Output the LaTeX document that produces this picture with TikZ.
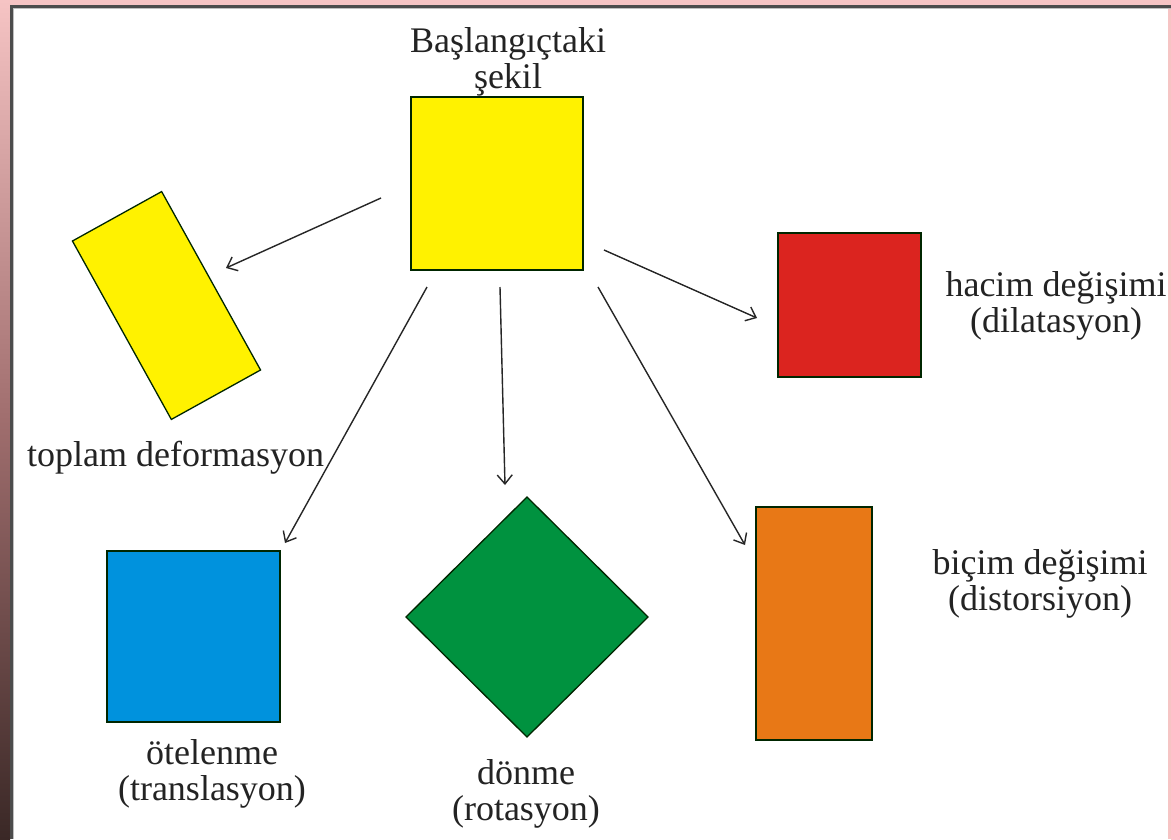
\documentclass[tikz,border=0pt]{standalone}
\usepackage{fontspec}
\setmainfont{Liberation Serif}
\usetikzlibrary{arrows.meta,shapes.geometric}
\definecolor{bgpink}{RGB}{246,196,196}
\definecolor{darkleft}{RGB}{58,40,38}
\definecolor{ylw}{RGB}{255,242,0}
\definecolor{rd}{RGB}{219,36,31}
\definecolor{bl}{RGB}{0,146,221}
\definecolor{gr}{RGB}{0,146,63}
\definecolor{org}{RGB}{232,120,22}
\definecolor{txt}{RGB}{35,35,35}
\tikzset{
  shapebox/.style={draw=black!85!green, line width=1.3pt, inner sep=0pt, outer sep=0pt},
  lbl/.style={text=txt, font=\fontsize{36}{36}\selectfont, inner sep=0pt, align=center},
  arr/.style={draw=black!85, line width=1.4pt, -{Straight Barb[length=9pt,width=15pt,line width=1.4pt]}}
}
\begin{document}
\begin{tikzpicture}[x=1pt,y=-1pt]
\useasboundingbox (0,0) rectangle (1171,839);
% frame
\fill[bgpink] (0,0) rectangle (1171,839);
\shade[top color=bgpink, bottom color=darkleft, middle color={rgb,255:red,160;green,110;blue,110}] (0,0) rectangle (10,839);
\fill[white] (10,5) rectangle (1168,839);
\draw[black!70, line width=3pt] (11,839) -- (11,6) -- (1171,6);
\draw[black!25, line width=1.5pt] (13.5,839) -- (13.5,8.5) -- (1171,8.5);
% shapes
\node[shapebox, fill=ylw, minimum width=172pt, minimum height=173pt] (start) at (497,183.5) {};
\node[shapebox, fill=ylw, minimum width=102pt, minimum height=204pt, rotate=29] (total) at (166.5,305.5) {};
\node[shapebox, fill=rd, minimum width=143pt, minimum height=144pt] (dil) at (849.5,305) {};
\node[shapebox, fill=bl, minimum width=173pt, minimum height=171pt] (trans) at (193.5,636.5) {};
\node[shapebox, fill=gr, diamond, minimum width=242pt, minimum height=240pt] (rot) at (527,617) {};
\node[shapebox, fill=org, minimum width=116pt, minimum height=233pt] (dist) at (814,623.5) {};
% labels (base anchor = baseline of the last line)
\node[lbl, anchor=base] (tstart) at (508,88) {Başlangıçtaki\\şekil};
\node[lbl, anchor=base west] (ttotal) at (27,466) {toplam deformasyon};
\node[lbl, anchor=base] (tdil) at (1056,332) {hacim değişimi\\(dilatasyon)};
\node[lbl, anchor=base] (tdist) at (1040,610) {biçim değişimi\\(distorsiyon)};
\node[lbl, anchor=base] (ttrans) at (212,800) {ötelenme\\(translasyon)};
\node[lbl, anchor=base] (trot) at (526,820) {dönme\\(rotasyon)};
% arrow end points
\coordinate (a1s) at (381,198); \coordinate (a1e) at (226,268);
\coordinate (a2s) at (427,287); \coordinate (a2e) at (285,543);
\coordinate (a3s) at (500,287); \coordinate (a3e) at (505,485);
\coordinate (a4s) at (598,287); \coordinate (a4e) at (745,545);
\coordinate (a5s) at (604,250); \coordinate (a5e) at (757,318);
\draw[arr] (a1s) -- (a1e);
\draw[arr] (a2s) -- (a2e);
\draw[arr] (a3s) -- (a3e);
\draw[arr] (a4s) -- (a4e);
\draw[arr] (a5s) -- (a5e);
\end{tikzpicture}
\end{document}
